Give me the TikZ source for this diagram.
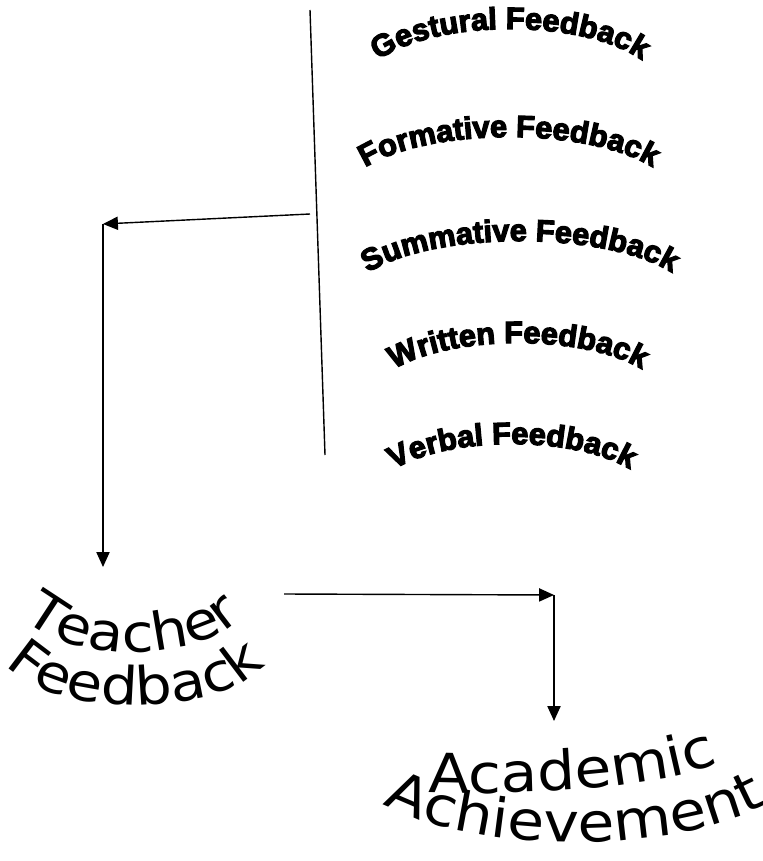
\documentclass[tikz,border=0pt]{standalone}
\usepackage{fontspec}
\usetikzlibrary{arrows.meta,decorations.text}
\newfontfamily\heavyfont{Liberation Sans}[UprightFont={* Bold}, UprightFeatures={FakeBold=4}]
\newfontfamily\roundfont{DejaVu Sans}[FakeStretch=1.1]
\newcommand{\kindfont}{\heavyfont\fontsize{17.5}{20}\selectfont}
\newcommand{\teachfont}{\roundfont\fontsize{30}{34}\selectfont}
\newcommand{\achfont}{\roundfont\fontsize{31}{36}\selectfont}
\tikzstyle{line} = [draw, line width=0.8pt, -{Triangle[length=8.5pt,width=7.5pt]}]
\tikzstyle{bar} = [draw, line width=0.8pt]
\tikzstyle{arched} = [decorate, decoration={text along path, text align=center}]
\begin{document}
\begin{tikzpicture}[x=0.02cm, y=-0.02cm]
    \useasboundingbox (0,0) rectangle (762,861);
    % Place points
    \coordinate (bartop) at (310,10);
    \coordinate (barbot) at (325,455);
    \coordinate (kinds) at (310,214);
    \coordinate (bend1) at (103,224);
    \coordinate (teacher) at (103,567);
    \coordinate (feedback) at (284,594);
    \coordinate (bend2) at (554,595);
    \coordinate (academic) at (554,721);
    % Kinds of feedback (arch up)
    \path [arched, decoration={text={|\kindfont|Gestural Feedback}}]
        (360,89) arc[start angle=180, end angle=360, x radius=150, y radius=60];
    \path [arched, decoration={text={|\kindfont|Formative Feedback}}]
        (344,197) arc[start angle=180, end angle=360, x radius=165, y radius=60];
    \path [arched, decoration={text={|\kindfont|Summative Feedback}}]
        (348,301) arc[start angle=180, end angle=360, x radius=172, y radius=60];
    \path [arched, decoration={text={|\kindfont|Written Feedback}}]
        (373,398) arc[start angle=180, end angle=360, x radius=145, y radius=55];
    \path [arched, decoration={text={|\kindfont|Verbal Feedback}}]
        (372,499) arc[start angle=180, end angle=360, x radius=140, y radius=55];
    % Teacher feedback (bowl)
    \path [arched, decoration={text={|\teachfont|Teacher}}]
        (15,596) arc[start angle=180, end angle=0, x radius=118, y radius=56];
    \path [arched, decoration={text={|\teachfont|Feedback}}]
        (0,647) arc[start angle=180, end angle=0, x radius=135, y radius=58];
    % Academic achievement (bowl)
    \path [arched, decoration={text={|\achfont|Academic}, text align=left}]
        (428,792) arc[start angle=101.5, end angle=0, x radius=260, y radius=50];
    \path [arched, decoration={text={|\achfont|Achievement}}]
        (350,762) arc[start angle=180, end angle=0, x radius=225, y radius=80];
    % Draw edges
    \path [bar] (bartop) -- (barbot);
    \path [line] (kinds) -- (bend1);
    \path [line] (bend1) -- (teacher);
    \path [line] (feedback) -- (bend2);
    \path [line] (bend2) -- (academic);
\end{tikzpicture}
\end{document}
